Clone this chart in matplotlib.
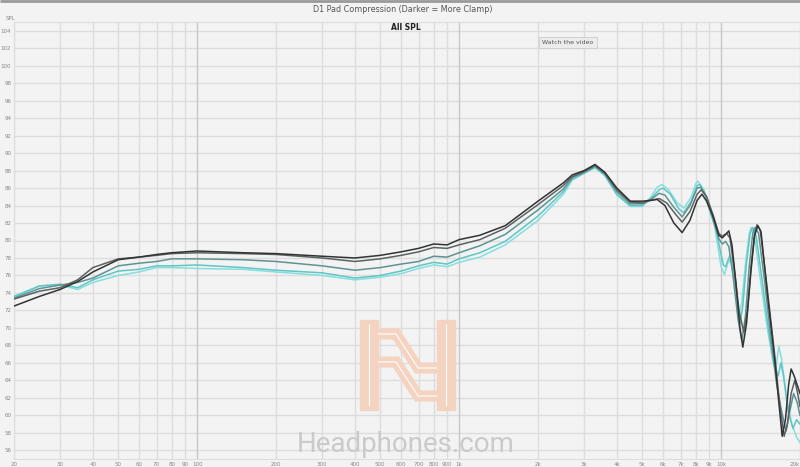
import numpy as np
import matplotlib
matplotlib.use('Agg')
import matplotlib.pyplot as plt
from matplotlib.patches import Rectangle, FancyBboxPatch
from matplotlib.lines import Line2D

# frequencies shared by all curves below 5 kHz
freq_low = [20, 25, 30, 35, 40, 50, 60, 70, 80, 100, 150, 200, 300, 400, 500, 600, 700,
            800, 900, 1000, 1200, 1500, 2000, 2500, 2700, 3000, 3300, 3600, 4000, 4500]

spl_low_1 = [72.5, 73.6, 74.4, 75.3, 76.4, 77.8, 78.1, 78.4, 78.6, 78.8, 78.6, 78.5, 78.2, 78.0, 78.3,
             78.7, 79.1, 79.6, 79.5, 80.1, 80.6, 81.7, 84.5, 86.6, 87.5, 88.0, 88.7, 87.8, 86.0, 84.5]
spl_low_2 = [73.3, 74.2, 74.6, 75.5, 76.9, 77.9, 78.1, 78.3, 78.5, 78.6, 78.5, 78.4, 78.0, 77.6, 77.9,
             78.3, 78.7, 79.2, 79.1, 79.5, 80.1, 81.4, 84.1, 86.3, 87.3, 87.9, 88.6, 87.7, 85.8, 84.4]
spl_low_3 = [73.4, 74.5, 74.9, 75.2, 75.7, 77.1, 77.4, 77.6, 77.9, 77.9, 77.8, 77.6, 77.1, 76.6, 76.9,
             77.3, 77.6, 78.2, 78.1, 78.6, 79.4, 80.7, 83.5, 85.9, 87.2, 87.8, 88.5, 87.6, 85.6, 84.2]
spl_low_4 = [73.6, 74.8, 75.0, 74.6, 75.5, 76.5, 76.7, 77.1, 77.1, 77.2, 76.9, 76.6, 76.3, 75.7, 76.0,
             76.5, 77.1, 77.5, 77.3, 77.9, 78.6, 79.9, 82.8, 85.6, 87.0, 87.7, 88.4, 87.5, 85.3, 84.0]
spl_low_5 = [73.5, 74.8, 74.9, 74.4, 75.2, 76.0, 76.4, 76.9, 76.9, 76.8, 76.7, 76.4, 76.0, 75.5, 75.8,
             76.2, 76.8, 77.2, 77.0, 77.5, 78.1, 79.5, 82.3, 85.3, 86.9, 87.7, 88.3, 87.4, 85.2, 83.9]

# treble, each curve has its own points
freq_hi_1 = [5000, 5400, 5700, 6100, 6600, 7100, 7600, 8100, 8450, 8800, 9300, 9800, 10100, 10400, 10700,
             11000, 11400, 11800, 12100, 12500, 13000, 13400, 13800, 14200, 15000, 16000, 16600, 17100,
             17600, 18100, 18500, 19000, 19500, 20000]
spl_hi_1 = [84.5, 84.6, 84.7, 84.0, 82.0, 80.9, 82.3, 84.6, 85.3, 84.5, 82.8, 80.6, 80.3, 80.7, 81.1,
            79.5, 75.0, 70.0, 67.8, 70.5, 76.5, 80.5, 81.7, 81.0, 74.0, 66.5, 61.5, 57.6,
            59.5, 63.5, 65.3, 64.5, 63.5, 62.5]

freq_hi_2 = [5000, 5400, 5800, 6200, 6700, 7100, 7600, 8100, 8400, 8800, 9300, 9800, 10100, 10500, 10800,
             11200, 11700, 12200, 12600, 13000, 13400, 13700, 14100, 15000, 16000, 16700, 17400, 17900,
             18500, 19100, 19600, 20000]
spl_hi_2 = [84.3, 84.6, 84.8, 84.3, 83.0, 82.1, 83.3, 85.3, 85.8, 85.0, 83.0, 80.8, 80.5, 80.8, 80.3,
            77.0, 72.0, 69.5, 72.0, 77.0, 80.5, 81.8, 81.2, 74.5, 67.0, 61.5, 57.6, 59.0,
            62.5, 64.0, 62.5, 61.0]

freq_hi_3 = [5000, 5400, 5800, 6100, 6600, 7100, 7600, 8100, 8350, 8800, 9300, 9800, 10100, 10400, 10700,
             11100, 11600, 12000, 12400, 12800, 13200, 13500, 13900, 14700, 15600, 16300, 17000, 17700,
             18300, 18900, 19500, 20000]
spl_hi_3 = [84.2, 84.7, 85.4, 85.2, 83.8, 82.7, 84.0, 86.0, 86.1, 85.0, 82.6, 80.2, 79.6, 79.9, 79.3,
            76.0, 71.0, 68.5, 71.5, 77.0, 80.8, 81.5, 80.8, 75.0, 68.0, 63.5, 60.5, 58.2,
            60.5, 62.5, 61.5, 60.0]

freq_hi_4 = [5000, 5400, 5800, 6000, 6400, 6900, 7200, 7700, 8100, 8300, 8700, 9200, 9600, 9900, 10200,
             10400, 10800, 11100, 11500, 11800, 12100, 12500, 12900, 13200, 13600, 14400, 15300, 16000,
             16500, 16900, 17300, 18000, 18800, 19400, 20000]
spl_hi_4 = [84.0, 84.8, 85.8, 86.0, 85.3, 83.6, 83.2, 84.5, 86.3, 86.4, 85.3, 82.8, 81.0, 79.0, 77.2,
            77.0, 78.3, 77.5, 73.0, 70.5, 72.5, 77.5, 80.8, 81.5, 80.5, 75.0, 69.0, 65.5,
            64.5, 66.0, 64.5, 60.5, 58.5, 59.5, 59.0]

freq_hi_5 = [5000, 5400, 5700, 5950, 6300, 6800, 7200, 7700, 8000, 8150, 8600, 9100, 9400, 9700, 10000,
             10300, 10700, 11000, 11400, 11700, 12000, 12400, 12800, 13000, 13400, 14200, 15000, 15800,
             16200, 16600, 17000, 17800, 18600, 19400, 20000]
spl_hi_5 = [83.9, 85.0, 86.1, 86.4, 85.8, 84.3, 83.7, 85.0, 86.5, 86.8, 85.8, 83.0, 82.0, 79.5, 77.0,
            76.1, 77.8, 77.3, 73.5, 71.5, 73.0, 77.5, 80.8, 81.5, 80.5, 75.0, 70.0, 66.0,
            65.5, 67.9, 66.5, 62.0, 59.0, 57.5, 56.9]

# lightest (least clamp) to darkest (most clamp)
colors = ['#86dede', '#5fc6c6', '#5f9292', '#5a6262', '#333333']

xticks = [20, 30, 40, 50, 60, 70, 80, 90, 100, 200, 300, 400, 500, 600, 700, 800, 900,
          1000, 2000, 3000, 4000, 5000, 6000, 7000, 8000, 9000, 10000, 20000]
xlabels = ['20', '30', '40', '50', '60', '70', '80', '90', '100', '200', '300', '400', '500', '600',
           '700', '800', '900', '1k', '2k', '3k', '4k', '5k', '6k', '7k', '8k', '9k', '10k', '20k']
yticks = list(range(56, 105, 2))

W, H = 800, 467
bg = '#f3f3f3'
fig = plt.figure(figsize=(W / 100, H / 100), dpi=100, facecolor=bg)
ax = fig.add_axes([14 / W, 8 / H, 786 / W, 437 / H], facecolor=bg)


def px(x, y):
    return x / W, 1 - y / H


def stroke(xs, ys, color, lw, z):
    fig.lines.append(Line2D([x / W for x in xs], [1 - y / H for y in ys], transform=fig.transFigure,
                            color=color, lw=lw, solid_capstyle='butt', solid_joinstyle='miter', zorder=z))


# watermark logo and text (behind curves)
peach = '#f4d3c0'
for x0 in (360, 437):
    fig.patches.append(Rectangle(px(x0, 410), 18 / W, 90 / H, transform=fig.transFigure,
                                 color=peach, zorder=0.5))
    stroke([x0 + 9, x0 + 9], [324, 406], 'white', 0.8, 0.6)
for dy in (0, 28):
    xs = [378, 396, 418, 437]
    ys = [334 + dy, 334 + dy, 368 + dy, 368 + dy]
    stroke(xs, ys, peach, 8, 0.5)
    stroke(xs, ys, 'white', 0.8, 0.6)
fig.text(406 / W, 1 - 445 / H, 'Headphones.com', ha='center', va='center', fontsize=20,
         color='#cacaca', family='Roboto', zorder=0.5)

curves = [
    (freq_low + freq_hi_5, spl_low_5 + spl_hi_5),
    (freq_low + freq_hi_4, spl_low_4 + spl_hi_4),
    (freq_low + freq_hi_3, spl_low_3 + spl_hi_3),
    (freq_low + freq_hi_2, spl_low_2 + spl_hi_2),
    (freq_low + freq_hi_1, spl_low_1 + spl_hi_1),
]
for i, (f, s) in enumerate(curves):
    ax.plot(f, s, color=colors[i], lw=1.1, zorder=3 + i)

ax.set_xscale('log')
ax.set_xlim(20, 20000)
ax.set_ylim(55, 105)
ax.set_xticks(xticks)
ax.set_xticklabels(xlabels)
ax.xaxis.set_minor_locator(matplotlib.ticker.NullLocator())
ax.set_yticks(yticks)
ax.set_yticklabels([str(v) for v in yticks])
ax.tick_params(length=0, labelsize=4, colors='#888888', pad=2)
ax.get_xticklabels()[-1].set_horizontalalignment('right')
ax.patch.set_alpha(0)

for v in yticks:
    ax.axhline(v, color='#dddddd', lw=1, zorder=1)
for v in xticks:
    c = '#c8c8c8' if v in (100, 1000, 10000) else '#dddddd'
    ax.axvline(v, color=c, lw=1, zorder=1)
for sp in ax.spines.values():
    sp.set_color('#dddddd')

# header
stroke([0, W], [1, 1], '#9a9a9a', 2, 2)
fig.text(403 / W, 1 - 10 / H, 'D1 Pad Compression (Darker = More Clamp)', ha='center', va='center',
         fontsize=5.8, color='#555555')
fig.text(10 / W, 1 - 18 / H, 'SPL', ha='center', va='center', fontsize=4, color='#888888')
fig.text(406 / W, 1 - 28 / H, 'All SPL', ha='center', va='center', fontsize=5.5, weight='bold',
         color='#222222')
fig.patches.append(FancyBboxPatch(px(539, 48), 58 / W, 11 / H, boxstyle='square,pad=0',
                                  transform=fig.transFigure, facecolor='#ececec', edgecolor='#cccccc',
                                  lw=0.6, zorder=10))
fig.text(568 / W, 1 - 42.5 / H, 'Watch the video', ha='center', va='center', fontsize=4.5,
         color='#555555', zorder=11)

plt.savefig('out.png', dpi=100, facecolor=bg)
